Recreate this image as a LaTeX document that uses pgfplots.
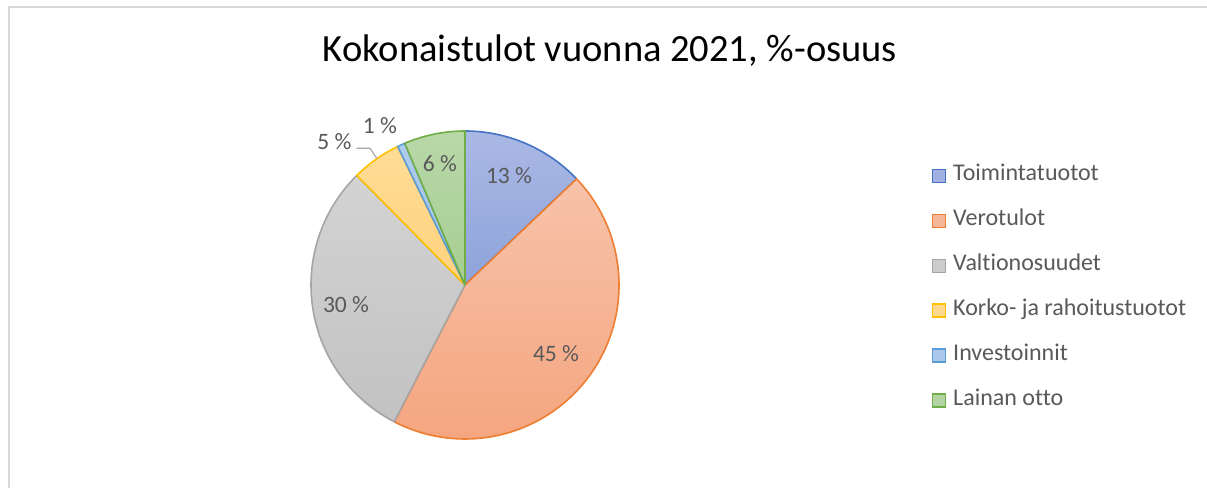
\documentclass[border=0pt]{standalone}
\usepackage{pgfplots}
\pgfplotsset{compat=1.18}
\usepackage{fontspec}
\setmainfont{Carlito}[Ligatures={NoCommon}]
\definecolor{framecol}{HTML}{D9D9D9}
\definecolor{labgray}{HTML}{595959}
\definecolor{leadgray}{HTML}{A6A6A6}
\definecolor{toimD}{HTML}{4472C4}\definecolor{toimT}{HTML}{AAB8E5}\definecolor{toimB}{HTML}{8EA3DA}
\definecolor{veroD}{HTML}{ED7D31}\definecolor{veroT}{HTML}{F7C3AA}\definecolor{veroB}{HTML}{F4A47D}
\definecolor{valD}{HTML}{A5A5A5}\definecolor{valT}{HTML}{D3D3D3}\definecolor{valB}{HTML}{C2C2C2}
\definecolor{korD}{HTML}{FFC000}\definecolor{korT}{HTML}{FFDC96}\definecolor{korB}{HTML}{FFD27E}
\definecolor{invD}{HTML}{5B9BD5}\definecolor{invT}{HTML}{AFCCEC}\definecolor{invB}{HTML}{A0C3E8}
\definecolor{laiD}{HTML}{70AD47}\definecolor{laiT}{HTML}{B8D8A8}\definecolor{laiB}{HTML}{A7CE93}
% slice shares (percent), clockwise from 12 o'clock
\def\vA{12.9}\def\vB{44.7}\def\vC{30.0}\def\vD{5.2}\def\vE{0.8}\def\vF{6.4}
\begin{document}
\begin{tikzpicture}[x=1pt,y=1pt]
\path[use as bounding box] (0,0) rectangle (1207,488);
\fill[white] (0,0) rectangle (1207,488);
\draw[framecol, line width=2pt] (9,0) -- (9,481) -- (1208,481);
\begin{axis}[at={(0,0)}, anchor=south west, scale only axis,
  width=1207pt, height=488pt, xmin=0, xmax=1207, ymin=0, ymax=488,
  hide axis, clip=false,
  legend image code/.code={\draw[#1, line width=1.3pt] (0pt,-6.5pt) rectangle (13pt,6.5pt);},
  legend cell align=left,
  legend style={at={(axis cs:931.7,323.3)}, anchor=north west, draw=none, fill=none,
    inner sep=0pt, row sep=22.9pt, column sep=7pt,
    font=\fontsize{24}{29}\selectfont, text=labgray,
    nodes={inner sep=0pt, text height=16pt, text depth=6pt}},
]
\addlegendimage{draw=toimD, fill=toimT!60!toimB}
\addlegendentry{Toimintatuotot}
\addlegendimage{draw=veroD, fill=veroT!60!veroB}
\addlegendentry{Verotulot}
\addlegendimage{draw=valD, fill=valT!60!valB}
\addlegendentry{Valtionosuudet}
\addlegendimage{draw=korD, fill=korT!60!korB}
\addlegendentry{Korko- ja rahoitustuotot}
\addlegendimage{draw=invD, fill=invT!60!invB}
\addlegendentry{Investoinnit}
\addlegendimage{draw=laiD, fill=laiT!60!laiB}
\addlegendentry{Lainan otto}

\path[draw=toimD, line width=1.6pt, line join=round, top color=toimT, bottom color=toimB]
  (axis cs:465,203) -- ++({90}:154pt) arc[start angle={90}, end angle={90-3.6*\vA}, radius=154pt] -- cycle;
\path[draw=veroD, line width=1.6pt, line join=round, top color=veroT, bottom color=veroB]
  (axis cs:465,203) -- ++({90-3.6*\vA}:154pt) arc[start angle={90-3.6*\vA}, end angle={90-3.6*(\vA+\vB)}, radius=154pt] -- cycle;
\path[draw=valD, line width=1.6pt, line join=round, top color=valT, bottom color=valB]
  (axis cs:465,203) -- ++({90-3.6*(\vA+\vB)}:154pt) arc[start angle={90-3.6*(\vA+\vB)}, end angle={90-3.6*(\vA+\vB+\vC)}, radius=154pt] -- cycle;
\path[draw=korD, line width=1.6pt, line join=round, top color=korT, bottom color=korB]
  (axis cs:465,203) -- ++({90-3.6*(\vA+\vB+\vC)}:154pt) arc[start angle={90-3.6*(\vA+\vB+\vC)}, end angle={90-3.6*(\vA+\vB+\vC+\vD)}, radius=154pt] -- cycle;
\path[draw=invD, line width=1.6pt, line join=round, top color=invT, bottom color=invB]
  (axis cs:465,203) -- ++({90-3.6*(\vA+\vB+\vC+\vD)}:154pt) arc[start angle={90-3.6*(\vA+\vB+\vC+\vD)}, end angle={90-3.6*(\vA+\vB+\vC+\vD+\vE)}, radius=154pt] -- cycle;
\path[draw=laiD, line width=1.6pt, line join=round, top color=laiT, bottom color=laiB]
  (axis cs:465,203) -- ++({90-3.6*(\vA+\vB+\vC+\vD+\vE)}:154pt) arc[start angle={90-3.6*(\vA+\vB+\vC+\vD+\vE)}, end angle={90-3.6*(\vA+\vB+\vC+\vD+\vE+\vF)}, radius=154pt] -- cycle;

% leader line for 5 %
\draw[leadgray, line width=1.2pt] (axis cs:356.7,339.7) -- (axis cs:370,339.7) -- (axis cs:376.7,329.7);

\begin{scope}[every node/.style={inner sep=0pt, text=labgray, font=\fontsize{23.5}{28}\selectfont}]
\node at (axis cs:509,312.5) {13 \%};
\node at (axis cs:556,134) {45 \%};
\node at (axis cs:346,183.3) {30 \%};
\node at (axis cs:334.5,346.3) {5 \%};
\node at (axis cs:380,362.5) {1 \%};
\node at (axis cs:440,324) {6 \%};
\end{scope}
\node[anchor=base, inner sep=0pt, font=\fontsize{38.5}{46}\selectfont, text=black] at (axis cs:610,426.3) {Kokonaistulot vuonna 2021, \%-osuus};
\end{axis}
\end{tikzpicture}
\end{document}
